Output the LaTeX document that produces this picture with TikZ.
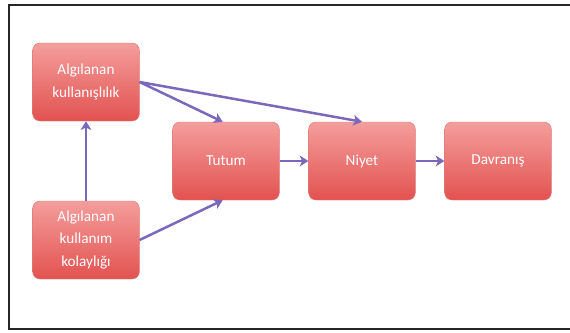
\documentclass[tikz,border=0pt]{standalone}
\usepackage{fontspec}
\setmainfont{Carlito}
\usetikzlibrary{positioning,arrows.meta}
\definecolor{boxtop}{RGB}{244,158,156}
\definecolor{boxbot}{RGB}{226,82,80}
\definecolor{boxline}{RGB}{222,120,118}
\definecolor{arcol}{RGB}{124,104,186}

\begin{document}
\begin{tikzpicture}[x=0.3mm,y=-0.3mm,font=\fontsize{13}{19}\selectfont,
  blk/.style={draw=boxline,rounded corners=2.2mm,minimum width=32mm,minimum height=23.4mm,
    align=center,text=white,top color=boxtop,bottom color=boxbot,inner sep=1pt},
  ar/.style={-{Stealth[length=2.6mm,width=3.2mm,inset=0.7mm]},draw=arcol,line width=0.75mm}]
\useasboundingbox (0,0) rectangle (570,332);
\clip (0,0) rectangle (570,332);
\draw[line width=0.6mm,draw=black!85] (8.5,4.5) rectangle (590,329);
% boxes
\node[blk] (kul) at (86,82) {Algılanan\\kullanışlılık};
\node[blk] (kol) at (86,240) {Algılanan\\kullanım\\kolaylığı};
\node[blk] (tut) at (226,161) {Tutum};
\node[blk] (niy) at (362,161) {Niyet};
\node[blk] (dav) at (498,161) {Davranış};
% arrows
\draw[ar] (kol.north) -- (kul.south);
\draw[ar] (kul.east) -- ([xshift=-1mm]tut.north);
\draw[ar] (kul.east) -- (niy.north);
\draw[ar] (kol.east) -- ([xshift=-1mm]tut.south);
\draw[ar] (tut.east) -- (niy.west);
\draw[ar] (niy.east) -- (dav.west);
\end{tikzpicture}
\end{document}
